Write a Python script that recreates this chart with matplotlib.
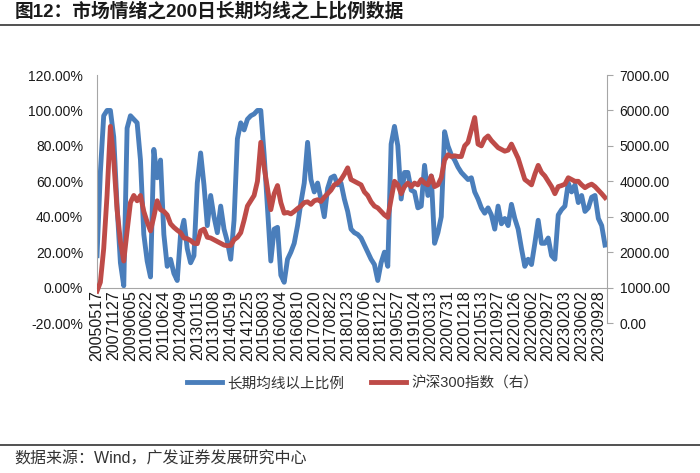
import numpy as np
import matplotlib.pyplot as plt
from matplotlib.lines import Line2D

plt.rcParams['font.family'] = ['Liberation Sans', 'Noto Sans CJK SC', 'DejaVu Sans']
plt.rcParams['axes.unicode_minus'] = False

# Données (axe catégoriel, une étiquette tous les 5 points)
date_labels = ['20050517', '20071127', '20090605', '20100622', '20110624', '20120409',
               '20130115', '20131008', '20140519', '20141225', '20150803', '20160204',
               '20160810', '20170220', '20170822', '20180123', '20180706', '20181212',
               '20190527', '20191024', '20200313', '20200731', '20201218', '20210513',
               '20210927', '20220126', '20220602', '20220927', '20230203', '20230602',
               '20230928']

ratio_200 = [18, 65, 97, 100, 100, 85, 46, 14, 1, 90,
             97, 95, 93, 72, 30, 15, 6, 78, 62, 72, 30,
             12, 16, 8, 4, 30, 38, 22, 14, 18, 59,
             76, 58, 35, 52, 40, 31, 46, 33, 26, 16,
             38, 84, 93, 89, 95, 97, 98, 100, 100, 75, 45,
             15, 33, 34, 7, 3, 16, 20, 25, 35, 48,
             59, 82, 61, 54, 59, 50, 40, 56, 62, 63,
             58, 59, 50, 43, 33, 31, 30, 28, 24, 20, 16,
             13, 4, 14, 20, 12, 81, 91, 80, 50, 65,
             65, 55, 54, 45, 46, 69, 52, 63, 25, 31,
             40, 88, 80, 75, 72, 68, 65, 63, 61, 62, 54,
             50, 45, 42, 45, 41, 33, 46, 36, 39, 35,
             47, 39, 33, 22, 12, 16, 13, 25, 38, 25,
             25, 28, 18, 16, 41, 44, 46, 59, 54, 58, 48,
             52, 43, 45, 51, 52, 39, 35, 24]

hs300 = [900, 1150, 2100, 3600, 5550, 4600, 3200, 2300, 1750, 2600,
         3400, 3600, 3450, 3600, 3150, 2850, 2600, 3000, 3450, 3200, 3150,
         3050, 2800, 2700, 2620, 2550, 2400, 2380, 2330, 2250, 2240,
         2600, 2650, 2420, 2400, 2350, 2300, 2250, 2200, 2180, 2190,
         2350, 2420, 2550, 2900, 3300, 3450, 3600, 4000, 5100, 4400, 3800,
         3200, 3650, 3880, 3400, 3100, 3120, 3080, 3150, 3230, 3300,
         3400, 3420, 3350, 3450, 3480, 3430, 3550, 3650, 3750, 3900,
         3950, 4050, 4200, 4380, 4050, 4000, 3950, 3900, 3700, 3600, 3420,
         3300, 3250, 3150, 3050, 2980, 3500, 4000, 3900, 3650, 3850,
         3950, 3850, 3950, 3900, 4050, 3950, 3900, 4150, 3850, 3900,
         4100, 4600, 4750, 4700, 4720, 4700, 4700, 5000, 5100, 5450, 5800,
         5050, 5000, 5200, 5280, 5150, 5050, 4950, 4900, 4850, 4880,
         5050, 4850, 4650, 4350, 4050, 3980, 3900, 4200, 4450, 4250,
         4150, 4000, 3850, 3650, 3850, 3880, 3920, 4100, 4050, 4000, 4000,
         3900, 3820, 3880, 3920, 3850, 3750, 3650, 3540]

bleu = '#4A7EBB'
rouge = '#BE4B48'
gris = '#A6A6A6'

x = np.arange(len(ratio_200))
pas = 5

fig = plt.figure(figsize=(7, 4.73), dpi=100)
ax = fig.add_axes([0.1386, 0.3171, 0.7286, 0.5243])
ax2 = ax.twinx()

l1, = ax.plot(x, ratio_200, color=bleu, lw=3.5, solid_joinstyle='round')
l2, = ax2.plot(x, hs300, color=rouge, lw=3.5, solid_joinstyle='round')

# axe horizontal qui coupe à 0 %
for a in (ax, ax2):
    a.spines['top'].set_visible(False)
ax.spines['bottom'].set_position(('data', 0))
ax.spines['bottom'].set_color(gris)
ax.spines['left'].set_color(gris)
ax.spines['left'].set_bounds(0, 120)
ax.spines['right'].set_visible(False)
ax2.spines['left'].set_visible(False)
ax2.spines['bottom'].set_visible(False)
ax2.spines['right'].set_color(gris)

ax.set_xlim(0, len(x) - 0.4)
ax.set_ylim(-20, 120)
ax2.set_ylim(0, 7000)

ax.set_yticks(np.arange(-20, 121, 20))
ax.set_yticklabels([f'{v:.2f}%' for v in np.arange(-20, 121, 20)])
ax2.set_yticks(np.arange(0, 7001, 1000))
ax2.set_yticklabels([f'{v:.2f}' for v in np.arange(0, 7001, 1000)])

ax.set_xticks(np.arange(0, len(date_labels) * pas, pas))
ax.set_xticklabels(date_labels)

ax.tick_params(axis='x', length=0, pad=2, labelsize=11.5, labelrotation=90,
               colors='#1a1a1a')
ax.tick_params(axis='y', length=0, pad=10, labelsize=10, colors='#1a1a1a')
ax2.tick_params(axis='y', length=4, width=0.8, color=gris, pad=5, labelsize=10,
                labelcolor='#1a1a1a')

fig.legend([l1, l2], ['长期均线以上比例', '沪深300指数（右）'], loc='center',
           bbox_to_anchor=(0.518, 0.19), ncol=2, frameon=False, fontsize=10.5,
           handlelength=2.4, columnspacing=1.8, handletextpad=0.4,
           labelcolor='#333333')

fig.text(0.021, 0.977, '图12：市场情绪之200日长期均线之上比例数据', fontsize=13.5,
         fontweight='bold', va='center', ha='left', color='#1a1a1a')
fig.add_artist(Line2D([0.0, 1.0], [0.947, 0.947], color='#333333', lw=1.2))
fig.add_artist(Line2D([0.0, 1.0], [0.059, 0.059], color='#333333', lw=1.2))
fig.text(0.021, 0.0296, '数据来源：Wind，广发证券发展研究中心', fontsize=11.5,
         va='center', ha='left', color='#333333')

plt.savefig('out.png', dpi=100)
